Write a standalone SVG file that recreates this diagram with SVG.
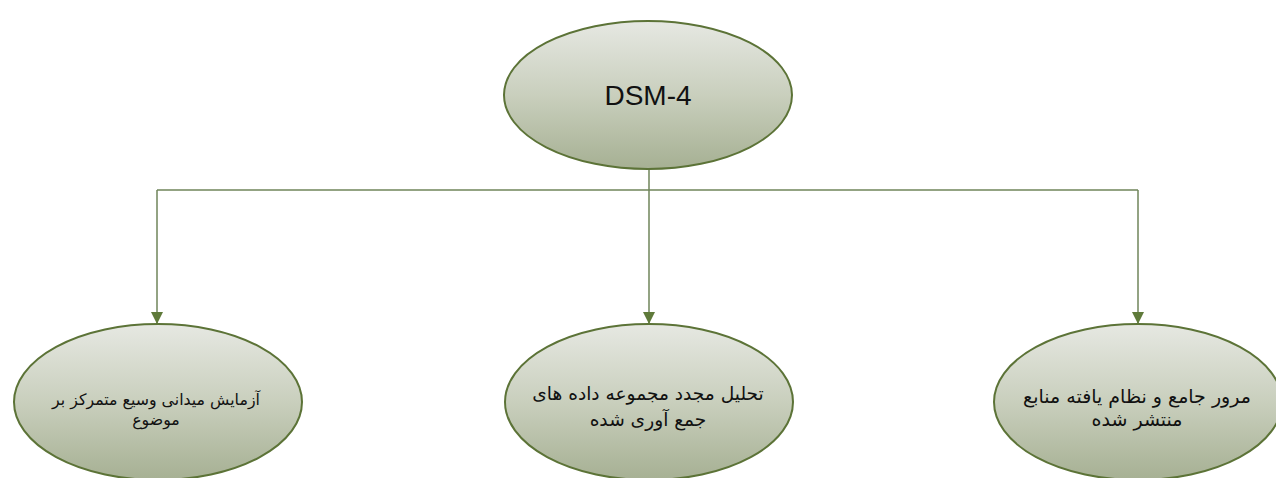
<svg xmlns="http://www.w3.org/2000/svg" width="1276" height="478" viewBox="0 0 1276 478">
<defs>
<linearGradient id="g" x1="0" y1="0" x2="0" y2="1">
<stop offset="0" stop-color="#e6e8e2"/>
<stop offset="0.5" stop-color="#c9cfbd"/>
<stop offset="1" stop-color="#a6b093"/>
</linearGradient>
<marker id="arr" markerWidth="12" markerHeight="12" refX="10" refY="5" orient="auto" markerUnits="userSpaceOnUse" viewBox="0 0 10 10">
<path d="M0,0 L10,5 L0,10 Z" fill="#5f7a3a"/>
</marker>
<style>
.node ellipse{fill:url(#g);stroke:#5c7337;stroke-width:2}
.conn{fill:none;stroke:#6f845a;stroke-width:1.5}
.fa{font-family:"DejaVu Sans",sans-serif;fill:#111;text-anchor:middle}
</style>
</defs>
<rect width="1276" height="478" fill="#fff"/>
<g id="connectors">
<path class="conn" d="M649,170 V190"/>
<path class="conn" d="M157,190 H1138"/>
<path class="conn" d="M157,190 V324" marker-end="url(#arr)"/>
<path class="conn" d="M649,190 V324" marker-end="url(#arr)"/>
<path class="conn" d="M1138,190 V324" marker-end="url(#arr)"/>
</g>
<g id="node-root" class="node">
<ellipse cx="648" cy="95" rx="144" ry="74"/>
<text x="648" y="105" font-family="Liberation Sans, Arial, sans-serif" font-size="28" text-anchor="middle" fill="#111">DSM-4</text>
</g>
<g id="node-left" class="node">
<ellipse cx="158" cy="402" rx="144" ry="78"/>
<text class="fa" x="156" y="405" font-size="15.8" direction="rtl">آزمایش میدانی وسیع متمرکز بر</text>
<text class="fa" x="156" y="425" font-size="15.8" direction="rtl">موضوع</text>
</g>
<g id="node-middle" class="node">
<ellipse cx="649" cy="402" rx="144" ry="78"/>
<text class="fa" x="648" y="400" font-size="18.6" direction="rtl">تحلیل مجدد مجموعه داده های</text>
<text class="fa" x="648" y="426" font-size="18.6" direction="rtl">جمع آوری شده</text>
</g>
<g id="node-right" class="node">
<ellipse cx="1138" cy="402" rx="144" ry="78"/>
<text class="fa" x="1137" y="403" font-size="19" direction="rtl">مرور جامع و نظام یافته منابع</text>
<text class="fa" x="1137" y="426" font-size="19" direction="rtl">منتشر شده</text>
</g>
</svg>
